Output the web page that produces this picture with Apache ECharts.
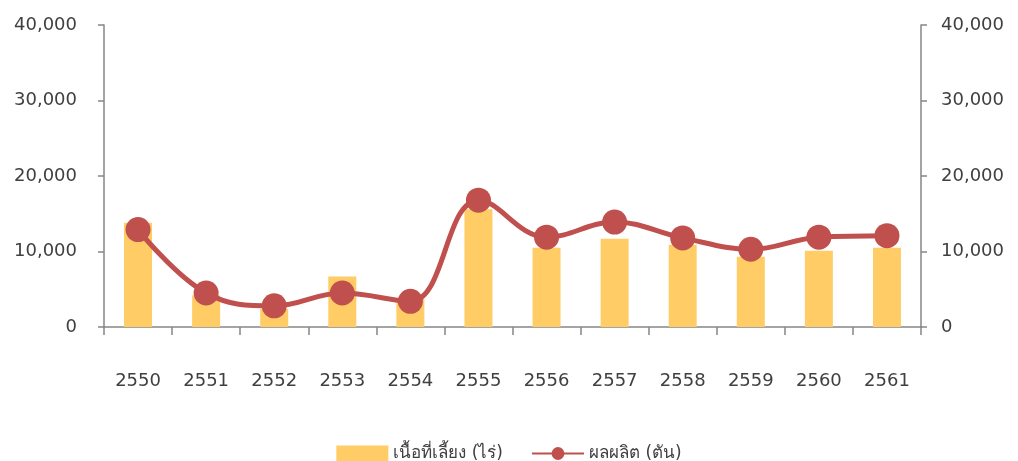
<!DOCTYPE html>
<html>
<head>
<meta charset="utf-8">
<script src="https://cdn.jsdelivr.net/npm/echarts@6/dist/echarts.min.js"></script>
<style>
  html, body { margin: 0; padding: 0; background: #fff; }
  #main { width: 1018px; height: 461px; }
</style>
</head>
<body>
<div id="main"></div>
<script>
  var years = ['2550', '2551', '2552', '2553', '2554', '2555', '2556', '2557', '2558', '2559', '2560', '2561'];
  // เนื้อที่เลี้ยง (ไร่)
  var areaValues = [13800, 4200, 2400, 6700, 3700, 15600, 10500, 11700, 10900, 9300, 10100, 10500];
  // ผลผลิต (ตัน)
  var outputValues = [12900, 4500, 2800, 4500, 3400, 16800, 11900, 13900, 11800, 10300, 11900, 12100];
  var yTicks = [0, 10000, 20000, 30000, 40000];

  var fontFam = 'Tahoma, "DejaVu Sans", "Noto Sans", sans-serif';
  var axisGray = '#868686';

  var myChart = echarts.init(document.getElementById('main'));

  function yAxis(pos, gap) {
    return {
      type: 'value',
      position: pos,
      min: yTicks[0],
      max: yTicks[yTicks.length - 1],
      interval: yTicks[1] - yTicks[0],
      splitLine: { show: false },
      axisLine: { show: true, lineStyle: { color: axisGray, width: 1.5 } },
      axisTick: { show: true, length: 6, lineStyle: { color: axisGray, width: 1.5 } },
      axisLabel: {
        margin: gap,
        color: '#404040',
        fontSize: 18,
        fontFamily: fontFam,
        formatter: function (v) { return v.toLocaleString('en-US'); }
      }
    };
  }

  var option = {
    animation: false,
    grid: { left: 104, right: 97, top: 25, bottom: 134 },
    legend: {
      top: 440,
      left: 'center',
      itemGap: 28,
      itemWidth: 52,
      itemHeight: 16,
      textStyle: { fontSize: 17, color: '#404040', fontFamily: fontFam },
      data: [
        { name: 'เนื้อที่เลี้ยง (ไร่)', icon: 'rect' },
        { name: 'ผลผลิต (ตัน)' }
      ]
    },
    xAxis: {
      type: 'category',
      data: years,
      axisLine: { lineStyle: { color: axisGray, width: 1.5 } },
      axisTick: { show: true, length: 8, lineStyle: { color: axisGray, width: 1.5 } },
      axisLabel: { margin: 45, color: '#404040', fontSize: 18, fontFamily: fontFam }
    },
    yAxis: [yAxis('left', 27), yAxis('right', 20)],
    series: [
      {
        name: 'เนื้อที่เลี้ยง (ไร่)',
        type: 'bar',
        barWidth: 28,
        itemStyle: { color: '#FFCC66' },
        data: areaValues
      },
      {
        name: 'ผลผลิต (ตัน)',
        type: 'line',
        yAxisIndex: 1,
        smooth: 0.4,
        symbol: 'circle',
        symbolSize: 25,
        lineStyle: { color: '#C0504D', width: 5 },
        itemStyle: { color: '#C0504D' },
        data: outputValues
      }
    ]
  };

  myChart.setOption(option);
</script>
</body>
</html>
